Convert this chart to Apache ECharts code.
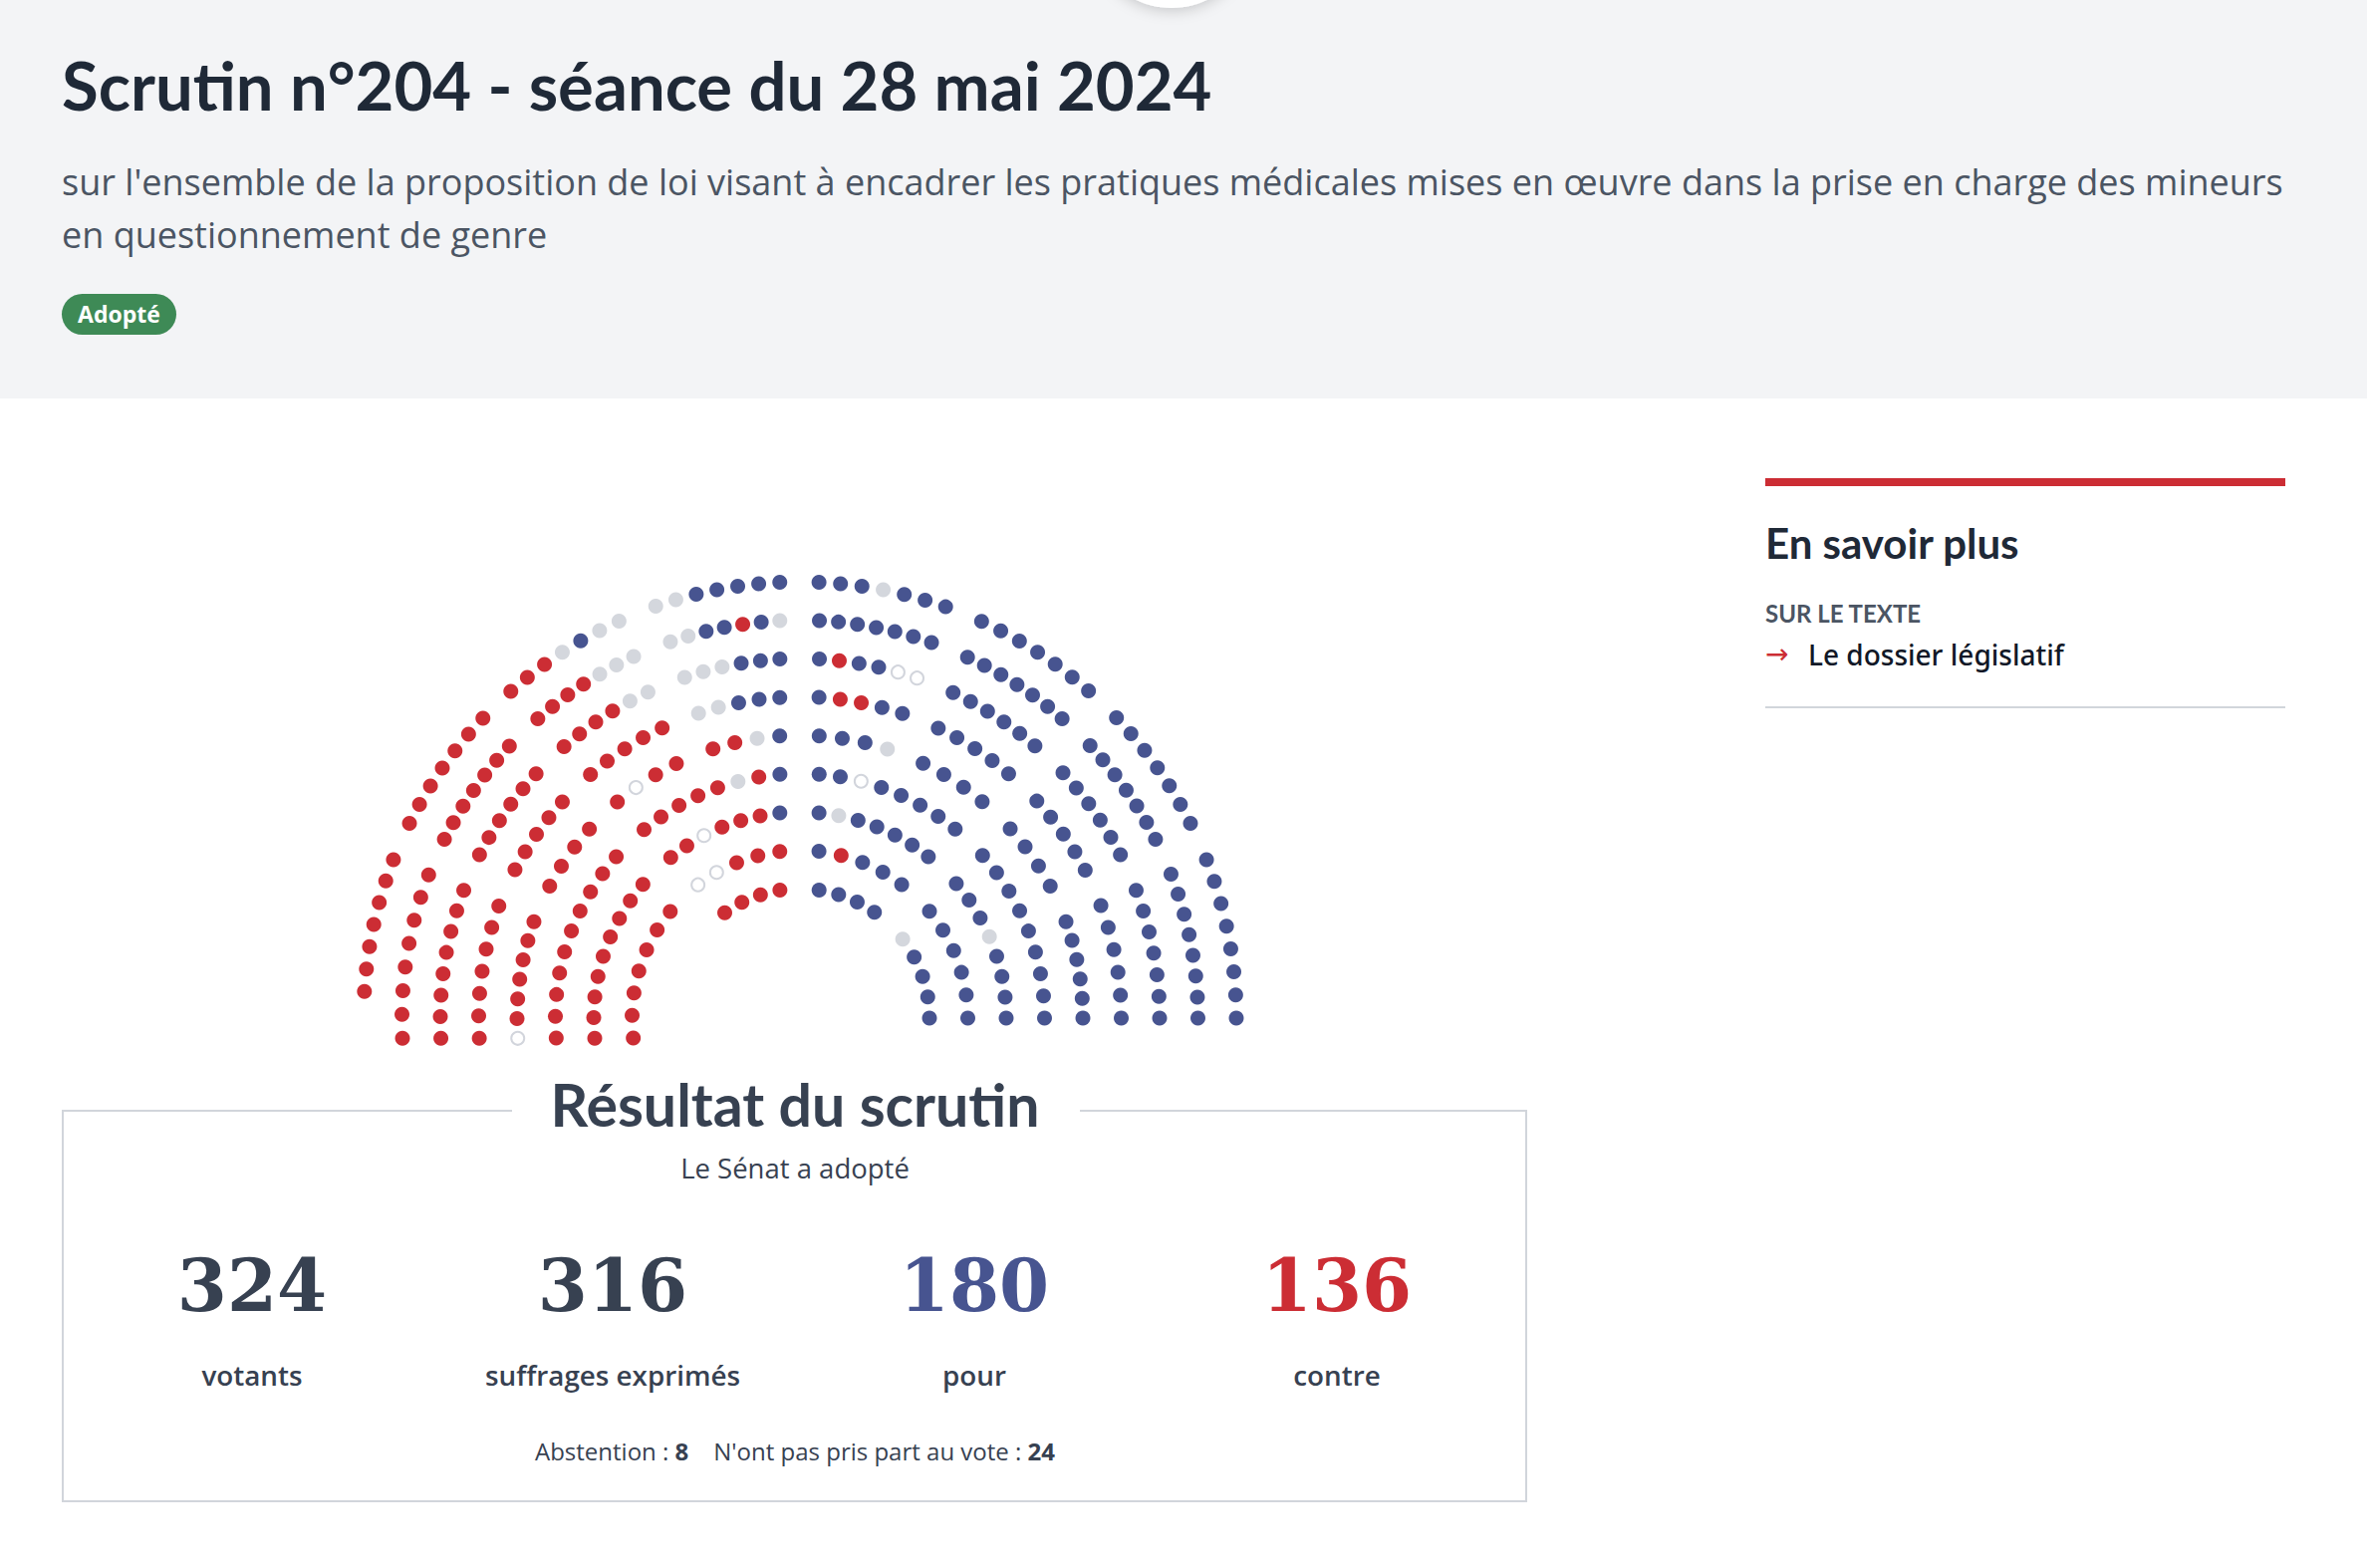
<!DOCTYPE html>
<html><head><meta charset="utf-8">
<script src="https://cdn.jsdelivr.net/npm/echarts@6/dist/echarts.min.js"></script>
<style>html,body{margin:0;padding:0;background:#ffffff}#c{width:2376px;height:1574px}</style>
</head><body><div id="c"></div>
<script>
// Seat codes: B = pour, R = contre, G = n'ont pas pris part au vote, H = abstention
// Each row: segments [angle at centre side, angle at outer side, seat codes in that order]
const row1 = [[81.5, 54.9, 'BBBB'], [37.5, 0, 'GBBBB'], [98.9, 125.5, 'RRRR']];
const row2 = [[83.5, 52.7, 'BRBBB'], [39.5, 0, 'BBBBBB'], [96.9, 127.4, 'RRRHH'], [140.6, 186.8, 'RRRRRRR']];
const row3 = [[84.7, 51.5, 'BGBBBBB'], [40.7, 0, 'BBBGBBBB'], [95.6, 128.8, 'BRRRHRR'], [139.6, 185.6, 'RRRRRRRRR']];
const row4 = [[85.5, 50.6, 'BBHBBBBB'], [41.7, 0, 'BBBBBBBBB'], [94.7, 129.6, 'BRGRRRRR'], [138.7, 184.7, 'RRRRRRRRRR']];
const row5 = [[86.1, 72.0, 'BBBG'], [64.2, 49.9, 'BBBB'], [42.0, 27.8, 'BBBB'], [19.9, 0, 'BBBBBB'],
              [94.1, 107.9, 'BGRR'], [115.9, 130.2, 'RRHR'], [138.1, 152.2, 'RRRR'], [160.1, 184.1, 'RRRRRRH']];
const row6 = [[86.6, 71.4, 'BRRBB'], [64.5, 49.5, 'BBBBB'], [42.5, 27.4, 'BBBBB'], [20.5, 0, 'BBBBBB'],
              [93.6, 108.4, 'BBBGG'], [115.4, 130.7, 'RRRRR'], [137.7, 152.5, 'RRRRR'], [159.6, 183.6, 'RRRRRRR']];
const row7 = [[86.9, 71.0, 'BRBBHH'], [64.8, 49.2, 'BBBBBB'], [43.0, 27.0, 'BBBBBB'], [20.8, 0, 'BBBBBBB'],
              [93.2, 108.7, 'BBBGGG'], [115.0, 131.0, 'GGRRRR'], [137.2, 153.0, 'RRRRRR'], [159.2, 183.2, 'RRRRRRRR']];
const row8 = [[87.2, 70.7, 'BBBBBBB'], [65.1, 48.8, 'BBBBBBB'], [43.2, 26.7, 'BBBBBBB'], [21.2, 0, 'BBBBBBBB'],
              [92.9, 109.0, 'GBRBBGG'], [114.7, 131.2, 'GGGRRRR'], [136.9, 153.3, 'RRRRRRR'], [158.9, 182.9, 'RRRRRRRR']];
const row9 = [[87.5, 70.5, 'BBBGBBB'], [65.4, 48.6, 'BBBBBBB'], [43.5, 26.5, 'BBBBBBB'], [21.3, 0, 'BBBBBBBB'],
              [92.65, 109.3, 'BBBBBGG'], [114.5, 131.5, 'GGBGRRR'], [136.6, 153.5, 'RRRRRRR'], [158.7, 176.5, 'RRRRRRR']];
const rows = [row1, row2, row3, row4, row5, row6, row7, row8, row9];

const seatCodes = ['B', 'R', 'G', 'H'];
const seatNames = ['Pour', 'Contre', "N'ont pas pris part au vote", 'Abstention'];

const resultValues = [324, 316, 180, 136];
const resultLabels = ['votants', 'suffrages exprimés', 'pour', 'contre'];
const abstention = 8;
const nonVotants = 24;

const seats = {B: [], R: [], G: [], H: []};
rows.forEach((segs, i) => {
  const r = i + 1;
  segs.forEach(([a0, a1, s]) => {
    const n = s.length;
    for (let k = 0; k < n; k++) {
      const a = n === 1 ? a0 : a0 + (a1 - a0) * k / (n - 1);
      seats[s[k]].push([r, a]);
    }
  });
});

const BLUE = '#475490', RED = '#cc2d34', GREY = '#d4d7dd', DARK = '#374151';
const seatStyle = {
  B: {color: BLUE, opacity: 1},
  R: {color: RED, opacity: 1},
  G: {color: GREY, opacity: 1},
  H: {color: '#ffffff', borderColor: '#d2d5dc', borderWidth: 2, opacity: 1}
};

const chart = echarts.init(document.getElementById('c'), null, {renderer: 'svg', width: 2376, height: 1574});

const numX = [253, 615, 978, 1342];
const numColors = [DARK, DARK, BLUE, RED];

const graphics = [
  {type: 'rect', z: -10, shape: {x: 0, y: 0, width: 2376, height: 400}, style: {fill: '#f3f4f6'}},
  {type: 'circle', z: -9, shape: {cx: 1176, cy: -74, r: 82}, style: {fill: '#ffffff', shadowBlur: 14, shadowColor: 'rgba(0,0,0,0.18)', shadowOffsetY: 3}},
  {type: 'text', style: {text: 'Scrutin n°204 - séance du 28 mai 2024', x: 62, y: 85, font: 'bold 67px Lato', fill: '#1f2937', align: 'left', verticalAlign: 'middle'}},
  {type: 'text', style: {text: "sur l'ensemble de la proposition de loi visant à encadrer les pratiques médicales mises en œuvre dans la prise en charge des mineurs", x: 62, y: 182, font: '36px "Open Sans"', fill: '#4b5563', align: 'left', verticalAlign: 'middle'}},
  {type: 'text', style: {text: 'en questionnement de genre', x: 62, y: 235, font: '36px "Open Sans"', fill: '#4b5563', align: 'left', verticalAlign: 'middle'}},
  {type: 'rect', shape: {x: 62, y: 295, width: 115, height: 41, r: 20.5}, style: {fill: '#3e8a56'}},
  {type: 'text', style: {text: 'Adopté', x: 119.5, y: 315, font: 'bold 23px "Open Sans"', fill: '#ffffff', align: 'center', verticalAlign: 'middle'}},

  {type: 'rect', shape: {x: 1772, y: 480, width: 522, height: 8}, style: {fill: RED}},
  {type: 'text', style: {text: 'En savoir plus', x: 1772, y: 545, font: 'bold 42px Lato', fill: '#1f2937', align: 'left', verticalAlign: 'middle'}},
  {type: 'text', style: {text: 'SUR LE TEXTE', x: 1772, y: 615, font: 'bold 24px Lato', fill: '#4b5563', align: 'left', verticalAlign: 'middle'}},
  {type: 'text', style: {text: '→', x: 1772, y: 656, font: '28px "DejaVu Sans"', fill: RED, align: 'left', verticalAlign: 'middle'}},
  {type: 'text', style: {text: 'Le dossier législatif', x: 1815, y: 657, font: '500 28px "Noto Sans"', fill: '#111827', align: 'left', verticalAlign: 'middle'}},
  {type: 'rect', shape: {x: 1772, y: 709, width: 522, height: 2}, style: {fill: '#d1d5db'}},

  {type: 'rect', shape: {x: 63, y: 1115, width: 1469, height: 392}, style: {fill: 'none', stroke: '#d1d5db', lineWidth: 2}},
  {type: 'rect', shape: {x: 514, y: 1100, width: 570, height: 30}, style: {fill: '#ffffff'}},
  {type: 'text', style: {text: 'Résultat du scrutin', x: 798, y: 1108, font: 'bold 59px Lato', fill: DARK, align: 'center', verticalAlign: 'middle'}},
  {type: 'text', style: {text: 'Le Sénat a adopté', x: 798, y: 1172, font: '27.5px "Open Sans"', fill: DARK, align: 'center', verticalAlign: 'middle'}},
  {type: 'text', style: {
    text: '{n|Abstention : }{b|' + abstention + '}{n|    N\'ont pas pris part au vote : }{b|' + nonVotants + '}',
    x: 798, y: 1456, align: 'center', verticalAlign: 'middle',
    rich: {
      n: {fontSize: 24, fontFamily: 'Open Sans', fill: DARK},
      b: {fontSize: 24, fontFamily: 'Open Sans', fontWeight: 'bold', fill: DARK}
    }
  }}
];
resultValues.forEach((v, i) => {
  graphics.push({type: 'text', style: {text: String(v), x: numX[i], y: 1290, font: 'bold 72px "DejaVu Serif"', fill: numColors[i], align: 'center', verticalAlign: 'middle'}});
  graphics.push({type: 'text', style: {text: resultLabels[i], x: numX[i], y: 1380, font: '600 27.8px "Open Sans"', fill: DARK, align: 'center', verticalAlign: 'middle'}});
});

chart.setOption({
  animation: false,
  backgroundColor: '#ffffff',
  polar: {center: [803, 1022], radius: [130, 438]},
  radiusAxis: {type: 'value', min: 1, max: 9, show: false},
  angleAxis: {type: 'value', min: 0, max: 360, startAngle: 0, clockwise: false, show: false},
  graphic: graphics,
  series: seatCodes.map((c, i) => ({
    type: 'scatter',
    name: seatNames[i],
    coordinateSystem: 'polar',
    symbol: 'circle',
    symbolSize: c === 'H' ? 13 : 15,
    itemStyle: seatStyle[c],
    data: seats[c],
    silent: true
  }))
});
</script>
</body></html>
